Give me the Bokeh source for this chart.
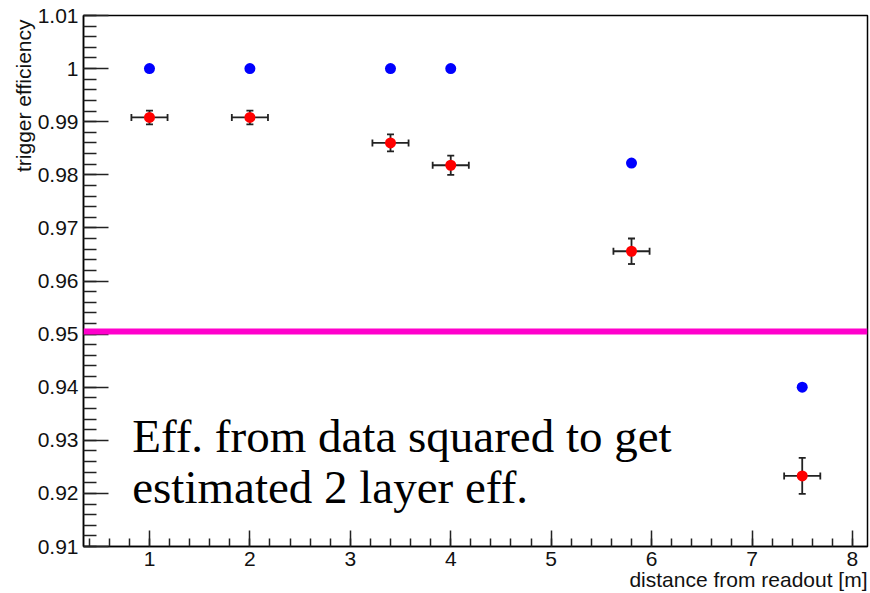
from bokeh.embed import file_html
from bokeh.models import (ColumnDataSource, FixedTicker, Label, Span, TeeHead,
                          Title, Whisker)
from bokeh.plotting import figure
from bokeh.resources import INLINE

# distance of the hit from the readout end [m]
distance = [1.0, 2.0, 3.4, 4.0, 5.8, 7.5]
# single-layer trigger efficiency (blue)
eff_single = [1.0, 1.0, 1.0, 1.0, 0.9822, 0.940]
# estimated two-layer efficiency, single-layer data squared (red)
eff_two_layer = [0.9908, 0.9908, 0.9860, 0.9818, 0.9656, 0.9233]
eff_two_layer_err = [0.0013, 0.0013, 0.0016, 0.0018, 0.0024, 0.0034]
distance_err = [0.18, 0.18, 0.18, 0.18, 0.18, 0.18]

threshold = 0.9505

x_major = [1, 2, 3, 4, 5, 6, 7, 8]
x_minor = [round(0.4 + 0.2 * i, 1) for i in range(40)]
y_major = [round(0.91 + 0.01 * i, 2) for i in range(11)]
y_minor = [round(0.91 + 0.002 * i, 3) for i in range(51)]

annotation_lines = ["Eff. from data squared to get", "estimated 2 layer eff."]
x_title = "distance from readout [m]"
y_title = "trigger efficiency"

SANS = "Liberation Sans"
SERIF = "Liberation Serif"

p = figure(
    frame_width=784, frame_height=531,
    min_border_left=83, min_border_right=3,
    min_border_top=15, min_border_bottom=47,
    x_range=(0.343, 8.15), y_range=(0.91, 1.01),
    output_backend="svg", toolbar_location=None,
)
p.grid.visible = False
p.background_fill_color = "white"
p.border_fill_color = "white"
p.outline_line_color = "black"
p.outline_line_width = 1.5

# ROOT-style axes: ticks pointing into the frame
p.xaxis.ticker = FixedTicker(ticks=x_major, minor_ticks=x_minor)
p.yaxis.ticker = FixedTicker(ticks=y_major, minor_ticks=y_minor)
p.yaxis.major_label_overrides = {1.0: "1"}

for ax in (p.xaxis[0], p.yaxis[0]):
    ax.axis_line_color = "black"
    ax.axis_line_width = 1.5
    ax.major_tick_line_color = "#222222"
    ax.minor_tick_line_color = "#222222"
    ax.major_tick_line_width = 1.5
    ax.minor_tick_line_width = 1.5
    ax.major_tick_out = 0
    ax.minor_tick_out = 0
    ax.major_label_text_font = SANS
    ax.major_label_text_font_size = "21px"
    ax.major_label_text_color = "#111111"

p.xaxis.major_tick_in = 16
p.xaxis.minor_tick_in = 8
p.xaxis.major_label_standoff = 5
p.yaxis.major_tick_in = 25
p.yaxis.minor_tick_in = 13
p.yaxis.major_label_standoff = 5

# axis titles, pushed to the far ends of the axes
p.add_layout(Title(text=x_title, align="right", standoff=-6,
                   text_font=SANS, text_font_size="21px",
                   text_font_style="normal", text_color="#111111"), "below")
p.add_layout(Title(text=y_title, align="right", standoff=0, offset=4,
                   text_font=SANS, text_font_size="21px",
                   text_font_style="normal", text_color="#111111"), "left")

# 95% requirement
p.add_layout(Span(location=threshold, dimension="width",
                  line_color="#ff00cc", line_width=6))

src = ColumnDataSource(dict(
    x=distance,
    y=eff_two_layer,
    y_lo=[v - e for v, e in zip(eff_two_layer, eff_two_layer_err)],
    y_hi=[v + e for v, e in zip(eff_two_layer, eff_two_layer_err)],
    x_lo=[v - e for v, e in zip(distance, distance_err)],
    x_hi=[v + e for v, e in zip(distance, distance_err)],
))

bar_color = "#222222"
p.add_layout(Whisker(source=src, base="x", lower="y_lo", upper="y_hi",
                     dimension="height", line_color=bar_color, line_width=1.8,
                     lower_head=TeeHead(size=7, line_color=bar_color, line_width=1.8),
                     upper_head=TeeHead(size=7, line_color=bar_color, line_width=1.8)))
p.add_layout(Whisker(source=src, base="y", lower="x_lo", upper="x_hi",
                     dimension="width", line_color=bar_color, line_width=1.8,
                     lower_head=TeeHead(size=7, line_color=bar_color, line_width=1.8),
                     upper_head=TeeHead(size=7, line_color=bar_color, line_width=1.8)))

p.scatter(distance, eff_single, size=11, color="#0000ff", line_width=0)
p.scatter("x", "y", source=src, size=11, color="#ff0000", line_width=0)

# annotation text
for i, line in enumerate(annotation_lines):
    p.add_layout(Label(x=0.828, y=0.9309 - 0.00974 * i, text=line,
                       text_font=SERIF, text_font_size="47px",
                       text_color="black", text_baseline="alphabetic",
                       text_align="left"))

open("out.html", "w").write(file_html(p, INLINE))
